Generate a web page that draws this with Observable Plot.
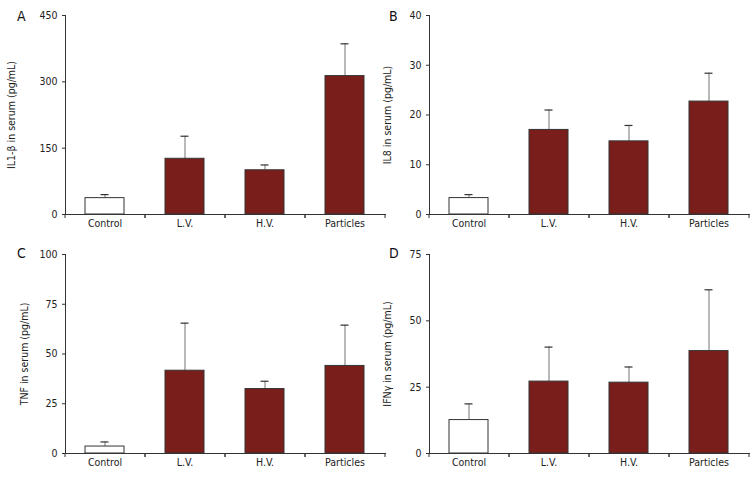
<!DOCTYPE html>
<html>
<head>
<meta charset="utf-8">
<script src="https://cdn.jsdelivr.net/npm/d3@7"></script>
<script src="https://cdn.jsdelivr.net/npm/@observablehq/plot@0.6"></script>
<style>
  html, body { margin: 0; padding: 0; background: #fff; }
  #wrap { position: relative; width: 756px; height: 480px; overflow: hidden;
    font-family: "Liberation Sans Narrow", "DejaVu Sans Condensed", "Roboto Condensed", sans-serif; font-stretch: condensed; }
  .panel { position: absolute; }
  .letter { position: absolute; font-size: 14px; color: #111; line-height: 1; font-stretch: condensed; }
</style>
</head>
<body>
<div id="wrap"></div>
<script>
const categories = ["Control", "L.V.", "H.V.", "Particles"];

const il1Mean = [37, 126, 100, 313];
const il1Sd   = [8, 51, 12, 73];
const il1Ticks = [0, 150, 300, 450];

const il8Mean = [3.3, 17.0, 14.7, 22.7];
const il8Sd   = [0.7, 4.0, 3.2, 5.7];
const il8Ticks = [0, 10, 20, 30, 40];

const tnfMean = [3.5, 41.6, 32.4, 44.0];
const tnfSd   = [2.3, 23.9, 3.9, 20.5];
const tnfTicks = [0, 25, 50, 75, 100];

const ifnMean = [12.6, 27.1, 26.7, 38.6];
const ifnSd   = [6.1, 13.0, 5.9, 23.1];
const ifnTicks = [0, 25, 50, 75];

const panelLetters = ["A", "B", "C", "D"];
const yLabels = ["IL1-β in serum (pg/mL)", "IL8 in serum (pg/mL)", "TNF in serum (pg/mL)", "IFNγ in serum (pg/mL)"];

const FONT = '"Liberation Sans Narrow", "DejaVu Sans Condensed", sans-serif';
const BAR = "#7a1e1b";

const panels = [
  {mean: il1Mean, sd: il1Sd, ticks: il1Ticks, left: 0, top: 0, width: 392, mL: 65, mR: 7, labelOffset: 58, lx: 17, ly: 9},
  {mean: il8Mean, sd: il8Sd, ticks: il8Ticks, left: 380, top: 0, width: 376, mL: 49, mR: 7, labelOffset: 46, lx: 389, ly: 9},
  {mean: tnfMean, sd: tnfSd, ticks: tnfTicks, left: 0, top: 240, width: 392, mL: 65, mR: 7, labelOffset: 45, lx: 17, ly: 246},
  {mean: ifnMean, sd: ifnSd, ticks: ifnTicks, left: 380, top: 240, width: 376, mL: 49, mR: 7, labelOffset: 46, lx: 389, ly: 246}
];

const wrap = document.getElementById("wrap");

panels.forEach((p, k) => {
  const rows = categories.map((c, i) => ({cat: c, mean: p.mean[i], hi: p.mean[i] + p.sd[i]}));
  const yMax = p.ticks[p.ticks.length - 1];
  const chart = Plot.plot({
    width: p.width,
    height: 240,
    marginLeft: p.mL,
    marginRight: p.mR,
    marginTop: k < 2 ? 15 : 14,
    marginBottom: k < 2 ? 26 : 27,
    style: {fontFamily: FONT, fontSize: "10.5px", color: "#222", background: "transparent", overflow: "visible"},
    x: {domain: categories, paddingInner: 0.51, paddingOuter: 0.255, label: null},
    y: {domain: [0, yMax], label: null},
    marks: [
      Plot.ruleX(rows, {x: "cat", y1: "mean", y2: "hi", stroke: "#8a8a8a", strokeWidth: 1.2}),
      Plot.barY(rows, {x: "cat", y: "mean", fill: d => d.cat === "Control" ? "#ffffff" : BAR, stroke: "#333", strokeWidth: 1}),
      Plot.tickY(rows, {x: "cat", y: "hi", stroke: "#333", strokeWidth: 1.2, insetLeft: 15.5, insetRight: 15.5}),
      Plot.frame({anchor: "left", stroke: "#333"}),
      Plot.frame({anchor: "bottom", stroke: "#333", insetLeft: -3}),
      Plot.axisX({tickSize: 4, dx: -40, tickFormat: () => "", label: null, stroke: "#333"}),
      Plot.axisX({tickSize: 4, dx: 40, tickFormat: () => "", label: null, stroke: "#333"}),
      Plot.axisX({tickSize: 0, tickPadding: 5, label: null, fill: "#222"}),
      Plot.axisY({ticks: p.ticks, tickSize: 3, tickPadding: 5, stroke: "#333", fill: "#222",
        label: yLabels[k], labelAnchor: "center", labelArrow: "none", labelOffset: p.labelOffset})
    ]
  });
  const div = document.createElement("div");
  div.className = "panel";
  div.style.left = p.left + "px";
  div.style.top = p.top + "px";
  div.appendChild(chart);
  wrap.appendChild(div);

  const lt = document.createElement("div");
  lt.className = "letter";
  lt.style.left = p.lx + "px";
  lt.style.top = p.ly + "px";
  lt.textContent = panelLetters[k];
  wrap.appendChild(lt);
});
</script>
</body>
</html>
